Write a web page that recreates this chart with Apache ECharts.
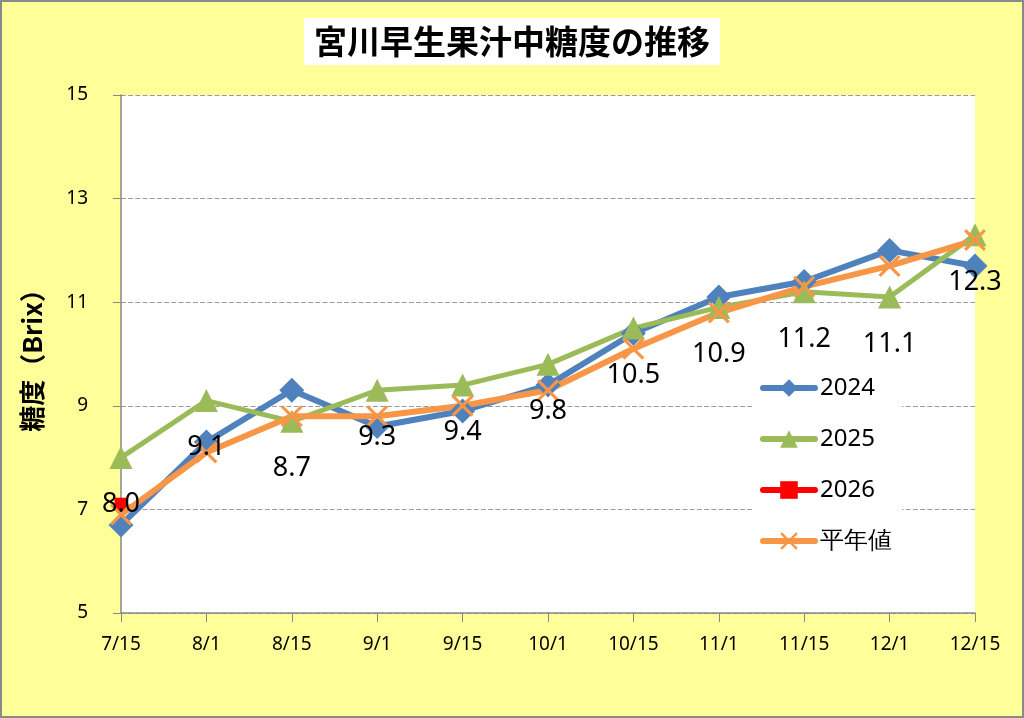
<!DOCTYPE html>
<html><head><meta charset="utf-8">
<script src="https://cdn.jsdelivr.net/npm/echarts@6/dist/echarts.min.js"></script>
<style>html,body{margin:0;padding:0;background:#fff}
#wrap{position:relative;width:1024px;height:718px}
#c{width:1024px;height:718px}
#frame{position:absolute;left:0;top:0;width:1024px;height:718px;box-sizing:border-box;border:2px solid #8a8a8a;pointer-events:none}
</style>
</head><body><div id="wrap"><div id="c"></div><div id="frame"></div></div>
<script>
const categories = ['7/15','8/1','8/15','9/1','9/15','10/1','10/15','11/1','11/15','12/1','12/15'];
const s2024 = [6.7, 8.3, 9.3, 8.6, 8.9, 9.4, 10.4, 11.1, 11.4, 12.0, 11.7];
const s2025 = [8.0, 9.1, 8.7, 9.3, 9.4, 9.8, 10.5, 10.9, 11.2, 11.1, 12.3];
const s2026 = [7.1, null, null, null, null, null, null, null, null, null, null];
const sAvg  = [6.9, 8.1, 8.8, 8.8, 9.0, 9.3, 10.1, 10.8, 11.3, 11.7, 12.2];
const yTicks = [5, 7, 9, 11, 13, 15];

const xPath = 'path://M0,1L1,0L10,9L9,10Z M9,0L10,1L1,10L0,9Z';

function build() {
  return {
    backgroundColor: '#FFFF99',
    animation: false,
    title: {
      text: '宮川早生果汁中糖度の推移',
      left: 'center', top: 18,
      backgroundColor: '#ffffff',
      padding: [7, 10, 7, 10],
      textStyle: {fontFamily: 'Noto Sans CJK JP', fontWeight: 'bold', fontSize: 33, color: '#000'}
    },
    grid: {left: 121, right: 49, top: 95, bottom: 105, show: true, backgroundColor: '#ffffff', borderWidth: 0},
    legend: {
      orient: 'vertical', left: 752, top: 368,
      backgroundColor: '#ffffff', padding: [8, 10, 8, 8],
      itemGap: 27, itemWidth: 52, itemHeight: 22,
      lineStyle: {width: 6, cap: 'round'},
      textStyle: {fontFamily: 'Noto Sans', fontSize: 24, color: '#000'},
      data: ['2024', '2025', '2026', '平年値']
    },
    xAxis: {
      type: 'category', data: categories, boundaryGap: false,
      axisLine: {lineStyle: {color: '#888', width: 1.5}},
      axisTick: {show: true, length: 9, lineStyle: {color: '#888'}},
      axisLabel: {color: '#000', fontFamily: 'Noto Sans', fontSize: 19, margin: 22}
    },
    yAxis: {
      type: 'value', min: 5, max: 15, interval: 2,
      name: '糖度（Brix）', nameLocation: 'middle', nameGap: 76, nameRotate: 90,
      nameTextStyle: {fontFamily: 'Noto Sans CJK JP', fontWeight: 'bold', fontSize: 26, color: '#000'},
      axisLine: {show: true, lineStyle: {color: '#888', width: 1.5}},
      axisTick: {show: true, length: 8, lineStyle: {color: '#888'}},
      axisLabel: {color: '#000', fontFamily: 'Noto Sans', fontSize: 19, margin: 33,
        formatter: v => yTicks.includes(v) ? String(v) : ''},
      splitLine: {lineStyle: {color: '#999', type: 'dashed', width: 1.2}}
    },
    series: [
      {name: '2024', type: 'line', data: s2024, symbol: 'diamond', symbolSize: 25,
       lineStyle: {color: '#4F81BD', width: 6}, itemStyle: {color: '#4F81BD'}},
      {name: '2025', type: 'line', data: s2025, symbol: 'triangle', symbolSize: 23,
       lineStyle: {color: '#9BBB59', width: 5}, itemStyle: {color: '#9BBB59'},
       label: {show: true, position: 'bottom', distance: 22, color: '#000', fontFamily: 'Noto Sans', fontSize: 27,
         formatter: p => p.value.toFixed(1)}},
      {name: '2026', type: 'line', data: s2026, symbol: 'rect', symbolSize: 13,
       lineStyle: {color: '#FF0000', width: 5}, itemStyle: {color: '#FF0000'}},
      {name: '平年値', type: 'line', data: sAvg, symbol: xPath, symbolSize: 22,
       lineStyle: {color: '#F79646', width: 6}, itemStyle: {color: '#F79646'}}
    ]
  };
}

const mods = {
  m1: o => {
    o.xAxis.axisLabel.color = '#111'; o.yAxis.axisLabel.color = '#111';
    delete o.grid.borderWidth; o.grid.borderColor = 'transparent';
    o.xAxis.axisLine = {lineStyle: {color: '#888'}}; o.xAxis.axisTick = {show: true, length: 9};
    o.yAxis.axisLine = {show: true, lineStyle: {color: '#888'}}; o.yAxis.axisTick = {show: true, length: 8};
    o.yAxis.splitLine = {lineStyle: {color: '#999', type: 'dashed'}};
  },
  m2: o => { o.yAxis.nameTextStyle = {fontWeight: 'bold', fontSize: 26, color: '#111'}; },
  m3: o => { o.title.textStyle = {fontWeight: 'bold', fontSize: 33, color: '#111'}; delete o.title.padding; },
  m4: o => { o.legend = {orient: 'vertical', left: 752, top: 368, backgroundColor: '#fff',
      lineStyle: {width: 6, cap: 'round'}, itemGap: 27, data: ['2024', '2025', '2026', '平年値'],
      textStyle: {fontSize: 24}}; },
  m5: o => { o.series[1].label = {show: true, position: 'bottom', fontSize: 27}; },
  m6: o => { o.series[2].data = [s2026[0]]; },
  m7: o => { o.series[3].symbol = 'emptyCircle'; },
  m8: o => { o.series.forEach(s => { delete s.symbolSize; s.lineStyle = {color: s.lineStyle.color}; }); }
};
const variants = [[], ['m1'], ['m2'], ['m3'], ['m4'], ['m5'], ['m6'], ['m7'], ['m8'],
  ['m1','m2','m3','m4','m5','m6','m7','m8']];

function labelsOk(chart) {
  try {
    chart.getZr().refreshImmediately();
    const cv = chart.getRenderedCanvas({pixelRatio: 1, backgroundColor: '#FFFF99'});
    const ctx = cv.getContext('2d');
    const d = ctx.getImageData(50, 84, 36, 22).data;
    let dark = 0;
    for (let i = 0; i < d.length; i += 4) {
      if (d[i] < 110 && d[i + 1] < 110 && d[i + 2] < 110) dark++;
    }
    return dark > 8;
  } catch (e) {
    return true;
  }
}

const chart = echarts.init(document.getElementById('c'));
let chosen = null;
for (const v of variants) {
  const o = build();
  v.forEach(k => mods[k](o));
  chart.setOption(o, true);
  if (labelsOk(chart)) { chosen = v; break; }
}
if (!chosen) chart.setOption(build(), true);
</script></body></html>
